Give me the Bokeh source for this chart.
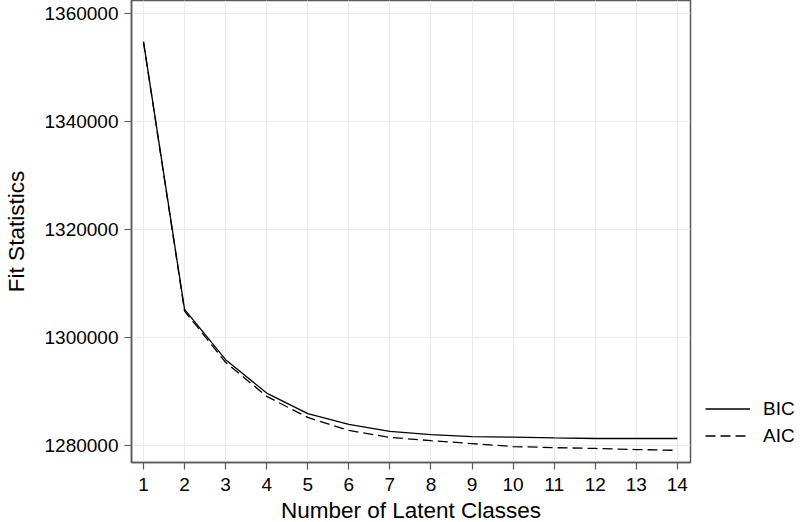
from bokeh.plotting import figure
from bokeh.models import Range1d, FixedTicker, Legend, LegendItem, CustomJSTickFormatter
from bokeh.embed import file_html
from bokeh.resources import INLINE

classes = [1, 2, 3, 4, 5, 6, 7, 8, 9, 10, 11, 12, 13, 14]
bic = [1354800, 1305200, 1295900, 1289700, 1285900, 1283900, 1282600,
       1282000, 1281650, 1281550, 1281400, 1281300, 1281300, 1281300]
aic = [1354700, 1304900, 1295400, 1289100, 1285200, 1282800, 1281500,
       1280900, 1280350, 1279800, 1279600, 1279450, 1279250, 1279100]
x_ticks = classes
y_ticks = [1280000, 1300000, 1320000, 1340000, 1360000]

FONT = "Liberation Sans"
GRAY = "#5a5a5a"

p = figure(frame_width=559, frame_height=462, output_backend="svg", toolbar_location=None,
           x_range=Range1d(0.708, 14.32), y_range=Range1d(1276852, 1362407))
p.min_border_left = 125
p.min_border_right = 106
p.min_border_top = 0
p.min_border_bottom = 0

p.outline_line_color = GRAY
p.outline_line_width = 1.5
p.background_fill_color = "white"
p.border_fill_color = "white"

p.xgrid.grid_line_color = "#ececec"
p.ygrid.grid_line_color = "#ececec"
p.xgrid.grid_line_width = 1
p.ygrid.grid_line_width = 1

p.xaxis.ticker = FixedTicker(ticks=x_ticks)
p.yaxis.ticker = FixedTicker(ticks=y_ticks)
p.yaxis.formatter = CustomJSTickFormatter(code="return tick.toFixed(0);")

for ax in (p.xaxis[0], p.yaxis[0]):
    ax.axis_line_color = GRAY
    ax.axis_line_width = 1.5
    ax.major_tick_line_color = GRAY
    ax.major_tick_line_width = 1.2
    ax.major_tick_out = 7
    ax.major_tick_in = 0
    ax.minor_tick_line_color = None
    ax.major_label_text_font = FONT
    ax.major_label_text_font_size = "19px"
    ax.major_label_text_color = "black"
    ax.axis_label_text_font = FONT
    ax.axis_label_text_font_size = "22.5px"
    ax.axis_label_text_font_style = "normal"
    ax.axis_label_text_color = "black"

p.xaxis.axis_label = "Number of Latent Classes"
p.yaxis.axis_label = "Fit Statistics"
p.xaxis.major_label_standoff = 8
p.xaxis.axis_label_standoff = 4
p.yaxis.major_label_standoff = 6
p.yaxis.axis_label_standoff = 13
p.yaxis.major_label_orientation = "horizontal"

r_bic = p.line(classes, bic, line_color="black", line_width=1.3)
r_aic = p.line(classes, aic, line_color="black", line_width=1.3, line_dash="10 5")

legend = Legend(items=[LegendItem(label="BIC", renderers=[r_bic]),
                       LegendItem(label="AIC", renderers=[r_aic])],
                location=(15, 13))
legend.border_line_color = None
legend.background_fill_alpha = 0
legend.padding = 0
legend.margin = 0
legend.spacing = 0
legend.glyph_width = 45
legend.glyph_height = 27
legend.label_height = 27
legend.label_standoff = 13
legend.label_text_font = FONT
legend.label_text_font_size = "19px"
legend.label_text_color = "black"
p.add_layout(legend, "right")

open("out.html", "w").write(file_html(p, INLINE))
